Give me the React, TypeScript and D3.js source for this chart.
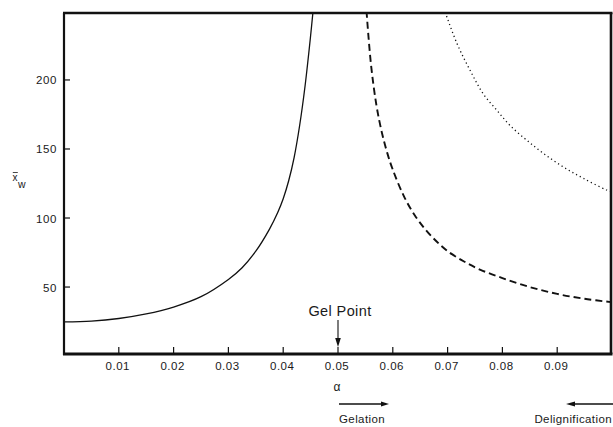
import React from "react";
import * as d3 from "d3";

const xTicks = [0.01, 0.02, 0.03, 0.04, 0.05, 0.06, 0.07, 0.08, 0.09];
const xTickLabels = ["0.01", "0.02", "0.03", "0.04", "0.05", "0.06", "0.07", "0.08", "0.09"];
const yTicks = [50, 100, 150, 200];

// alpha, x̄w
const solidAlpha = [0, 0.005, 0.01, 0.015, 0.02, 0.025, 0.03, 0.0325, 0.035, 0.0375, 0.039, 0.04, 0.041, 0.042, 0.043, 0.044, 0.045, 0.0455];
const solidXw = [24.7, 25.3, 27.2, 30.5, 35.5, 43, 55.5, 64, 76, 92, 104, 114, 127, 144, 167, 196, 232, 252];

const dashedAlpha = [0.0552, 0.056, 0.057, 0.058, 0.059, 0.06, 0.062, 0.064, 0.066, 0.068, 0.07, 0.073, 0.076, 0.08, 0.085, 0.09, 0.095, 0.1];
const dashedXw = [250, 212, 182, 162, 147, 135, 116, 102, 91.5, 83, 76, 68.5, 62.5, 56.5, 50, 45, 41.5, 39];

const dottedAlpha = [0.0693, 0.0717, 0.0741, 0.0765, 0.079, 0.0814, 0.0844, 0.0875, 0.0911, 0.0948, 0.099, 0.1];
const dottedXw = [252, 226.5, 207, 190, 178, 167, 156.5, 146.8, 137, 128.7, 120.3, 119];

const W = 613;
const H = 427;
const L = 64, R = 611, T = 13, B = 354;

export default function App() {
  const x = d3.scaleLinear().domain([0, 0.1]).range([L, R + 1]);
  const y = d3.scaleLinear().domain([1.5, 248.5]).range([B, T]);
  const line = d3
    .line<[number, number]>()
    .x((d) => x(d[0]))
    .y((d) => y(d[1]))
    .curve(d3.curveCatmullRom.alpha(0.5));
  const solid = line(solidAlpha.map((a, i) => [a, solidXw[i]] as [number, number])) || "";
  const dashed = line(dashedAlpha.map((a, i) => [a, dashedXw[i]] as [number, number])) || "";
  const dotted = line(dottedAlpha.map((a, i) => [a, dottedXw[i]] as [number, number])) || "";
  const font = "'Liberation Sans', Arial, Helvetica, sans-serif";
  const gx = x(0.05);

  return (
    <svg
      width={W}
      height={H}
      style={{ position: "absolute", left: 0, top: 0, background: "#fff" }}
      fontFamily={font}
    >
      <defs>
        <clipPath id="plot">
          <rect x={L} y={T} width={R - L} height={B - T} />
        </clipPath>
      </defs>
      <g clipPath="url(#plot)" fill="none" stroke="#111">
        <path d={solid} strokeWidth={1.3} />
        <path d={dashed} strokeWidth={1.9} strokeDasharray="7 4" />
        <path d={dotted} strokeWidth={1.3} strokeDasharray="1.2 3" />
      </g>
      {/* frame */}
      <g stroke="#111" fill="none">
        <line x1={L} y1={T} x2={L} y2={B + 1} strokeWidth={2.2} />
        <line x1={L - 1} y1={B} x2={R + 1.5} y2={B} strokeWidth={3} />
        <line x1={L - 1} y1={T} x2={R + 1.5} y2={T} strokeWidth={2.6} />
        <line x1={R} y1={T} x2={R} y2={B} strokeWidth={2.6} />
      </g>
      {/* x ticks */}
      {xTicks.map((t, i) => (
        <g key={"x" + i}>
          <line x1={x(t)} x2={x(t)} y1={B} y2={B - 7} stroke="#111" strokeWidth={1.2} />
          <text x={x(t) - 1} y={370} fontSize={11.5} textAnchor="middle" fill="#1a1a1a" letterSpacing={0.5}>
            {xTickLabels[i]}
          </text>
        </g>
      ))}
      {/* y ticks */}
      {yTicks.map((t, i) => (
        <g key={"y" + i}>
          <line x1={L} x2={L + 6} y1={y(t)} y2={y(t)} stroke="#111" strokeWidth={1.2} />
          <text x={57} y={y(t) + 4.5} fontSize={11.5} textAnchor="end" fill="#1a1a1a" letterSpacing={0.6}>
            {t}
          </text>
        </g>
      ))}
      {/* y label */}
      <g fill="#1a1a1a">
        <text x={12.5} y={181} fontSize={10}>x</text>
        <line x1={12.8} x2={17.8} y1={172.5} y2={172.5} stroke="#1a1a1a" strokeWidth={0.8} />
        <text x={18} y={188} fontSize={10.5}>w</text>
      </g>
      {/* alpha label */}
      <text x={gx - 1} y={391} fontSize={12} textAnchor="middle" fill="#1a1a1a">
        α
      </text>
      {/* Gel point */}
      <text x={340} y={316} fontSize={14.5} textAnchor="middle" fill="#1a1a1a" letterSpacing={0.4}>
        Gel Point
      </text>
      <line x1={gx} x2={gx} y1={320} y2={344} stroke="#111" strokeWidth={1.1} />
      <path d={`M${gx - 2.8},${338} L${gx + 2.8},${338} L${gx},${347} Z`} fill="#111" />
      {/* Gelation arrow */}
      <line x1={339} x2={384} y1={404} y2={404} stroke="#111" strokeWidth={1.5} />
      <path d="M381,401.5 L389,404 L381,406.5 Z" fill="#111" />
      <text x={339} y={423} fontSize={11.5} fill="#1a1a1a" letterSpacing={0.4}>
        Gelation
      </text>
      {/* Delignification arrow */}
      <line x1={572} x2={613} y1={404} y2={404} stroke="#111" strokeWidth={1.5} />
      <path d="M575,401.5 L566,404 L575,406.5 Z" fill="#111" />
      <text x={612} y={423} fontSize={11.5} textAnchor="end" fill="#1a1a1a" letterSpacing={0.4}>
        Delignification
      </text>
    </svg>
  );
}
